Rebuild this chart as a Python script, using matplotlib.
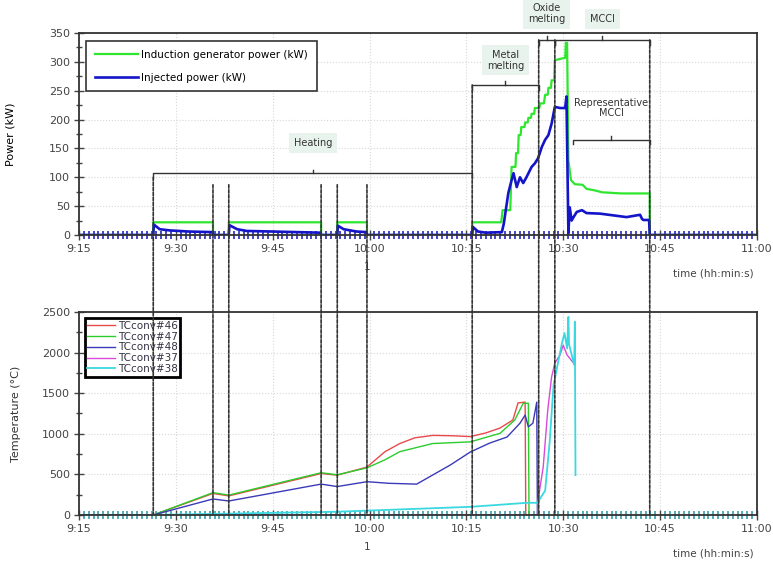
import numpy as np
import matplotlib
matplotlib.use('Agg')
import matplotlib.pyplot as plt
from matplotlib.ticker import MultipleLocator, FixedLocator, FixedFormatter
from matplotlib.patches import ConnectionPatch

# time is in minutes after 9:15
tick_pos = [0, 15, 30, 45, 60, 75, 90, 105]
tick_lab = ['9:15', '9:30', '9:45', '10:00', '10:15', '10:30', '10:45', '11:00']

# induction generator power (kW)
gen_t = [0, 11.5, 11.5, 20.75, 20.75, 23.2, 23.2, 37.5, 37.5, 40.0, 40.0, 44.6, 44.6,
         60.9, 60.9, 65.4, 65.6, 66.8, 67.0, 67.6, 67.7, 68.0, 68.1, 68.4, 68.5, 69.0,
         69.1, 69.5, 69.6, 70.0, 70.1, 70.5, 70.6, 71.3, 71.4, 72.0, 72.2, 72.6, 72.7,
         73.1, 73.2, 73.6, 73.7, 75.3, 75.4, 75.6, 75.8, 76.2, 76.8, 78.0, 78.6, 80.0,
         81.0, 84.0, 88.4, 88.4, 105]
gen_p = [0, 0, 22, 22, 0, 0, 22, 22, 0, 0, 22, 22, 0,
         0, 22, 22, 43, 43, 118, 118, 142, 142, 173, 173, 187, 187,
         195, 195, 203, 203, 210, 210, 220, 220, 228, 228, 243, 243, 255,
         255, 268, 268, 303, 307, 333, 333, 130, 95, 88, 87, 80, 77,
         74, 72, 72, 0, 0]

# injected power (kW)
inj_t = [0, 11.5, 11.6, 12.5, 14, 17, 20.7, 20.75, 23.2, 23.3, 24.5, 26, 30, 37.4, 37.5,
         40.0, 40.1, 41, 43, 44.5, 44.6, 60.9, 61.0, 61.8, 63, 65.5, 65.8, 66.5, 67.0,
         67.3, 67.8, 68.3, 68.8, 69.3, 70.1, 70.6, 71.1, 71.7, 72.2, 72.7, 73.2, 73.7,
         74.5, 75.3, 75.5, 75.8, 76.0, 76.3, 76.6, 77.1, 77.9, 78.6, 80.7, 84.8, 86.9,
         87.2, 87.4, 88.3, 88.4, 105]
inj_p = [0, 0, 18, 10, 8, 6, 5, 0, 0, 17, 10, 7, 6, 4, 0,
         0, 16, 10, 6, 5, 0, 0, 14, 6, 4, 5, 20, 73, 95,
         107, 83, 100, 90, 100, 118, 124, 133, 153, 165, 173, 193, 222,
         220, 220, 240, 3, 48, 25, 31, 40, 43, 38, 37, 31, 35,
         28, 26, 26, 0, 0]

# thermocouples (°C)
tc46_t = [0, 11.5, 20.75, 23.2, 37.5, 40.0, 44.6, 47.4, 49.7, 52, 54.8, 58, 60.6, 63, 65.2, 67.2, 68.0, 69.1, 69.2]
tc46_v = [0, 0, 265, 235, 510, 490, 590, 780, 880, 950, 980, 975, 965, 1010, 1070, 1170, 1380, 1390, 0]
tc47_t = [0, 11.5, 20.75, 23.2, 37.5, 40.0, 44.6, 47.4, 49.7, 54.8, 60.6, 65.2, 67.5, 68.8, 69.6, 69.7]
tc47_v = [0, 0, 275, 245, 520, 495, 580, 680, 780, 880, 900, 1005, 1170, 1375, 1375, 0]
tc48_t = [0, 11.5, 20.75, 23.2, 37.5, 40.0, 44.6, 48.0, 52.3, 57.5, 60.6, 63.6, 66.3, 68.3, 69.1, 69.6, 70.3, 70.9, 71.0]
tc48_v = [0, 0, 197, 172, 380, 350, 410, 390, 380, 615, 775, 885, 960, 1130, 1230, 1085, 1130, 1390, 0]
tc37_t = [0, 71.0, 71.1, 71.9, 72.6, 73.2, 73.7, 74.5, 75.0, 75.6, 76.8]
tc37_v = [0, 0, 185, 590, 1290, 1700, 1870, 1970, 2090, 1970, 1850]
tc38_t = [0, 11.5, 40, 60.6, 69.4, 71.0, 72.2, 72.9, 73.5, 74.0, 74.8, 75.2, 75.6, 75.8, 75.9, 76.7, 76.8, 76.9]
tc38_v = [0, 0, 40, 100, 150, 150, 300, 900, 1600, 1800, 2115, 2240, 2050, 2440, 2100, 1850, 2380, 490]

# event lines: time, top level on the power axis (kW)
ev_t = [11.5, 20.75, 23.2, 37.5, 40.0, 44.6, 60.9, 71.2, 73.7, 88.4]
ev_top = [100, 87, 87, 87, 87, 87, 260, 338, 338, 338]

# phases: start, end, bracket level (kW), label, label level (kW)
ph_start = [11.5, 60.9, 71.2, 73.7, 76.5]
ph_end = [60.9, 71.2, 73.7, 88.4, 88.4]
ph_level = [107, 260, 338, 338, 165]
ph_label = ['Heating', 'Metal\nmelting', 'Oxide\nmelting', 'MCCI', 'Representative\nMCCI']
ph_text_y = [160, 303, 384, 374, 220]
ph_box = [True, True, True, True, False]

fig = plt.figure(figsize=(7.73, 5.63), dpi=100)
ax1 = fig.add_axes([0.1022, 0.5826, 0.877, 0.3588])
ax2 = fig.add_axes([0.1022, 0.0853, 0.877, 0.3606])

ax1.plot(gen_t, gen_p, color='#2ee62e', lw=1.6, label='Induction generator power (kW)')
ax1.plot(inj_t, inj_p, color='#1414c8', lw=1.9, label='Injected power (kW)')

ax2.plot(tc46_t, tc46_v, color='#e84a4a', lw=1.0, label='TCconv#46')
ax2.plot(tc47_t, tc47_v, color='#2ccc2c', lw=1.0, label='TCconv#47')
ax2.plot(tc48_t, tc48_v, color='#3a3ab8', lw=1.0, label='TCconv#48')
ax2.plot(tc37_t, tc37_v, color='#d84ad8', lw=1.0, label='TCconv#37')
ax2.plot(tc38_t, tc38_v, color='#3ad8e0', lw=1.3, label='TCconv#38')

for ax, ymax, ymaj, ymin, mcol in [(ax1, 350, 50, 25, '#2828c0'), (ax2, 2500, 500, 250, '#3aa0a8')]:
    ax.set_xlim(0, 105)
    ax.set_ylim(0, ymax)
    ax.xaxis.set_major_locator(FixedLocator(tick_pos))
    ax.xaxis.set_major_formatter(FixedFormatter(tick_lab))
    ax.xaxis.set_minor_locator(MultipleLocator(0.75))
    ax.yaxis.set_major_locator(MultipleLocator(ymaj))
    ax.yaxis.set_minor_locator(MultipleLocator(ymin))
    ax.grid(True, which='major', color='#d8d8d8', ls=':', lw=0.8)
    ax.tick_params(which='major', direction='inout', length=7, width=1, color='#444',
                   labelsize=8, labelcolor='#444', pad=3)
    ax.tick_params(which='minor', direction='inout', length=5, width=1, color='#444')
    ax.tick_params(axis='x', which='minor', direction='inout', length=6, width=1.2, color=mcol)
    for s in ax.spines.values():
        s.set_color('#333')
        s.set_linewidth(1.3)
    ax.text(0.935, -0.19, 'time (hh:min:s)', transform=ax.transAxes, fontsize=7.5,
            color='#444', ha='center', va='center')
    ax.text(44.6, -0.16, '1', transform=ax.get_xaxis_transform(), fontsize=7.5,
            color='#444', ha='center', va='center')

ax1.set_ylabel('Power (kW)', fontsize=8)
ax1.yaxis.set_label_coords(-0.094, 0.5)
ax2.set_ylabel('Temperature (°C)', fontsize=8, color='#333')
ax2.yaxis.set_label_coords(-0.085, 0.5)

leg1 = ax1.legend(loc='upper left', bbox_to_anchor=(0.003, 0.985), fontsize=7.5,
                  handlelength=4.2, fancybox=False, framealpha=1, edgecolor='#333',
                  borderpad=0.8, labelspacing=1.3, handletextpad=0.3)
leg1.get_frame().set_linewidth(1.2)
leg2 = ax2.legend(loc='upper left', bbox_to_anchor=(0.004, 0.985), fontsize=7.5,
                  handlelength=2.6, fancybox=False, framealpha=1, edgecolor='black',
                  borderpad=0.25, labelspacing=0.08, handletextpad=0.3, borderaxespad=0.3)
leg2.get_frame().set_linewidth(2)
for txt in leg2.get_texts():
    txt.set_color('#334')

# event lines running through both panels
for t, top in zip(ev_t, ev_top):
    con = ConnectionPatch(xyA=(t, top), coordsA=ax1.transData, xyB=(t, 0), coordsB=ax2.transData,
                          color='#333', lw=1.2, linestyle=(0, (2, 1)), zorder=5)
    fig.add_artist(con)

# phase brackets
for s, e, lev, lab, ty, box in zip(ph_start, ph_end, ph_level, ph_label, ph_text_y, ph_box):
    mid = (s + e) / 2
    ax1.plot([s, s, e, e], [lev - 8, lev, lev, lev - 8], color='#333', lw=1.0, clip_on=False)
    ax1.plot([mid, mid], [lev, lev + 6], color='#333', lw=1.0, clip_on=False)
    bbox = dict(boxstyle='square,pad=0.5', fc='#e9f3ee', ec='none') if box else None
    ax1.text(mid, ty, lab, ha='center', va='center', fontsize=7, color='#333',
             linespacing=1.1, bbox=bbox, clip_on=False, zorder=6)

fig.savefig('out.png', dpi=100)
